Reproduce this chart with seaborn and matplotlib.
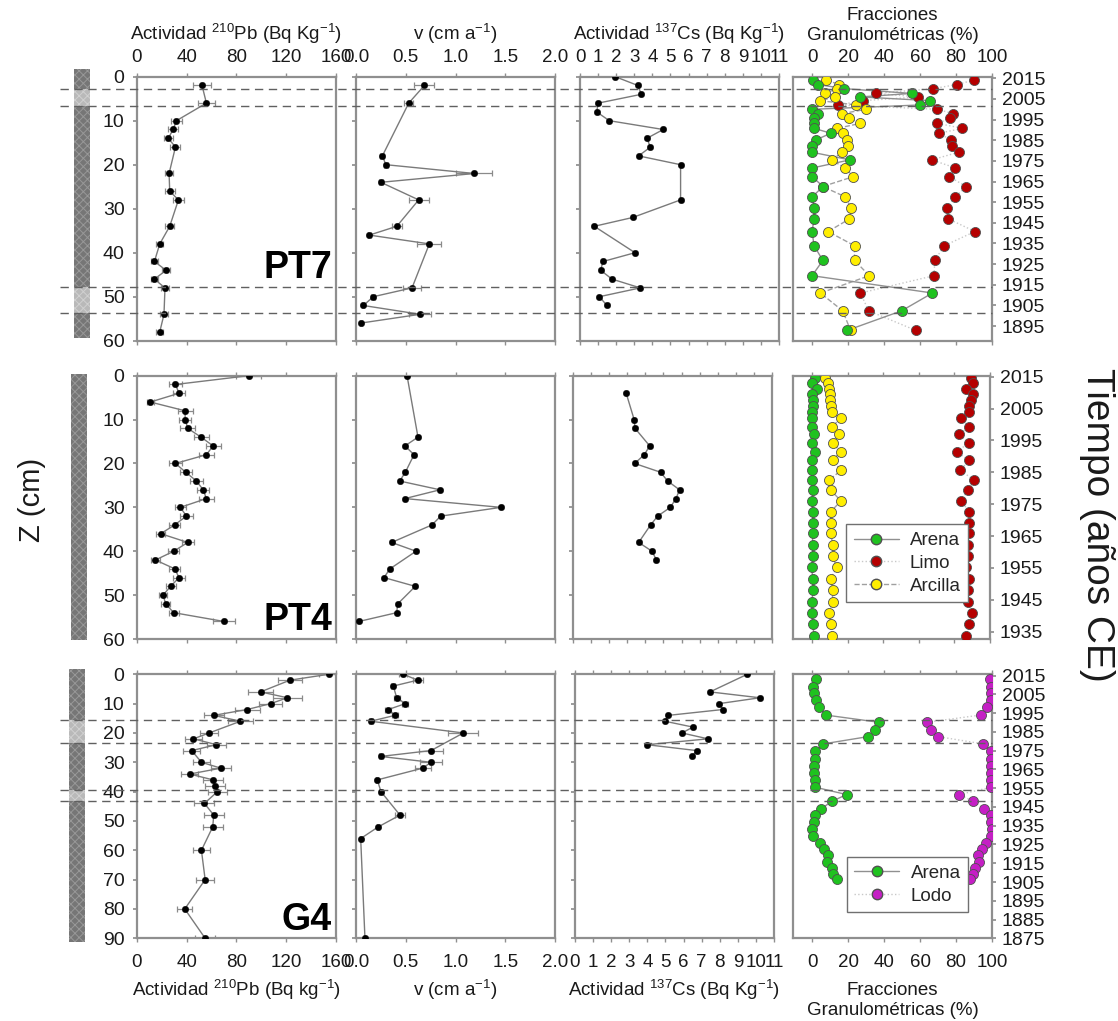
import matplotlib
matplotlib.use("Agg")
import matplotlib.pyplot as plt
import seaborn as sns
from matplotlib.lines import Line2D
from matplotlib.patches import Rectangle
from matplotlib.transforms import blended_transform_factory

sns.set_theme(style="white")
plt.rcParams["font.family"] = ["Liberation Sans", "DejaVu Sans"]
plt.rcParams["mathtext.fontset"] = "custom"
plt.rcParams["mathtext.rm"] = "Liberation Sans"
plt.rcParams["mathtext.it"] = "Liberation Sans:italic"
plt.rcParams["mathtext.bf"] = "Liberation Sans:bold"
plt.rcParams["mathtext.default"] = "regular"
plt.rcParams["hatch.linewidth"] = 0.7

# ======================= DATA =======================
# ---- PT7 ----
pt7_pb_depth = [2, 6, 10, 12, 14, 16, 22, 26, 28, 34, 38, 42, 44, 46, 48, 54, 58]
pt7_pb = [52.3, 55.8, 31.7, 29.0, 25.2, 30.9, 25.8, 26.3, 33.3, 26.3, 18.3, 14.0, 23.4, 14.0, 22.5, 21.7, 18.3]
pt7_pb_err = [7.4, 6.7, 4.5, 4.0, 3.5, 4.0, 3.5, 4.0, 4.5, 3.5, 3.0, 3.0, 3.5, 3.0, 3.5, 3.5, 3.0]

pt7_v_depth = [2, 6, 18, 20, 22, 24, 28, 34, 36, 38, 48, 50, 52, 54, 56]
pt7_v = [0.687, 0.53, 0.265, 0.30, 1.19, 0.25, 0.63, 0.41, 0.134, 0.737, 0.563, 0.174, 0.074, 0.643, 0.047]
pt7_v_err = [0.10, 0.045, 0.02, 0.02, 0.18, 0.02, 0.10, 0.05, 0.015, 0.12, 0.09, 0.02, 0.01, 0.11, 0.01]

pt7_cs_depth = [0, 2, 4, 6, 8, 10, 12, 14, 16, 18, 20, 28, 32, 34, 40, 42, 44, 46, 48, 50, 52]
pt7_cs = [1.95, 3.2, 3.39, 1.01, 0.92, 1.62, 4.6, 3.7, 3.89, 3.24, 5.56, 5.56, 2.91, 0.79, 3.04, 1.27, 1.14, 1.77, 3.33, 1.07, 1.49]

pt7_year = [2014.2, 2012.0, 2010.0, 2007.7, 2006.0, 2004.2, 2002.1, 2000.0, 1997.9, 1995.6,
            1993.2, 1990.8, 1988.4, 1985.2, 1982.4, 1979.2, 1975.5, 1971.6, 1967.4, 1962.6,
            1957.7, 1952.1, 1946.9, 1940.8, 1933.9, 1926.8, 1919.4, 1911.0, 1902.4, 1892.9]
pt7_arena = [0.4, 3.3, 18.0, 55.4, 26.8, 65.6, 60.0, 0.0, 3.4, 1.1,
             1.1, 1.1, 10.4, 2.2, 0.2, 0.0, 21.0, 0.2, 0.0, 6.1,
             0.2, 1.1, 1.1, 0.0, 1.1, 6.0, 0.0, 66.9, 49.8, 19.5]
pt7_limo = [90.0, 80.5, 67.0, 35.7, 59.0, 28.4, 14.5, 69.7, 78.4, 76.6,
            69.7, 83.6, 70.6, 77.0, 78.0, 81.4, 66.5, 79.7, 76.2, 85.7,
            79.7, 74.9, 75.8, 90.5, 73.4, 68.2, 67.8, 26.9, 31.4, 57.6]
pt7_arcilla = [7.8, 15.2, 14.0, 7.0, 13.0, 4.6, 24.5, 30.0, 16.7, 20.8,
               26.9, 14.0, 17.0, 19.5, 19.9, 16.7, 10.8, 18.2, 23.0, 5.9,
               18.2, 21.9, 20.8, 8.9, 23.6, 23.6, 31.8, 4.6, 17.0, 21.4]

# ---- PT4 ----
pt4_pb_depth = [0, 2, 4, 6, 8, 10, 12, 14, 16, 18, 20, 22, 24, 26, 28, 30, 32, 34, 36, 38, 40, 42, 44, 46, 48, 50, 52, 54, 56]
pt4_pb = [89.7, 30.9, 33.8, 10.7, 38.7, 38.7, 40.8, 51.5, 61.2, 55.8, 30.9, 39.2, 47.8, 53.2, 55.8,
          34.9, 39.7, 30.3, 19.1, 40.8, 29.5, 14.8, 30.3, 33.8, 27.1, 20.9, 23.1, 29.5, 69.8]
pt4_pb_err = [10, 5, 4.5, 3, 6, 5, 6, 6, 6, 6, 5, 5, 5, 5, 6,
              4.5, 5, 4.5, 3.5, 5, 4.5, 3.5, 4.5, 4.5, 4, 3.5, 3.5, 4, 9]

pt4_v_depth = [0, 14, 16, 18, 22, 24, 26, 28, 30, 32, 34, 38, 40, 44, 46, 48, 52, 54, 56]
pt4_v = [0.513, 0.623, 0.492, 0.583, 0.496, 0.439, 0.844, 0.492, 1.457, 0.851, 0.764, 0.358, 0.603,
         0.342, 0.281, 0.596, 0.419, 0.409, 0.03]

pt4_cs_depth = [4, 10, 12, 16, 18, 20, 22, 24, 26, 28, 30, 32, 34, 38, 40, 42]
pt4_cs = [2.94, 3.38, 3.43, 4.24, 3.94, 3.41, 4.84, 5.23, 5.89, 5.69, 5.38, 4.68, 4.29, 3.63, 4.37, 4.61]

pt4_year = [2014.5, 2012.9, 2011.1, 2009.5, 2007.7, 2005.9, 2003.8, 2001.9, 1999.3, 1996.9,
            1994.2, 1991.5, 1988.7, 1985.6, 1982.5, 1979.3, 1976.0, 1972.6, 1969.2, 1965.8,
            1962.3, 1958.7, 1955.2, 1951.5, 1948.0, 1944.4, 1940.9, 1937.3, 1933.7]
pt4_arena = [1.5, 0.0, 2.8, 0.0, 0.4, 0.4, 0.0, 0.0, 0.0, 1.3,
             0.0, 1.9, 0.0, 0.0, 0.0, 0.6, 0.0, 0.4, 0.4, 0.4,
             0.4, 0.4, 0.0, 0.4, 0.7, 0.0, 0.0, 0.4, 1.3]
pt4_limo = [89.5, 90.7, 86.4, 90.3, 89.2, 88.0, 88.2, 83.7, 88.2, 82.8,
            88.2, 81.3, 88.0, 83.4, 91.2, 87.5, 83.7, 88.4, 88.4, 88.4,
            87.5, 87.5, 86.4, 88.4, 87.5, 87.9, 89.7, 88.4, 86.5]
pt4_arcilla = [7.5, 8.8, 9.5, 9.9, 10.3, 10.8, 11.2, 16.3, 11.2, 15.1,
               11.6, 16.1, 11.6, 16.4, 9.5, 10.8, 16.3, 10.5, 10.7, 10.7,
               11.6, 11.6, 14.0, 10.5, 11.6, 11.6, 9.7, 10.5, 11.4]

# ---- G4 ----
g4_pb_depth = [0, 2, 6, 8, 10, 12, 14, 16, 20, 22, 24, 26, 30, 32, 34, 36, 38, 40, 44, 48, 52, 60, 70, 80, 90]
g4_pb = [154, 123, 99.3, 121, 107.4, 88.6, 61.7, 83.2, 58, 45.4, 63.9, 44, 51.8, 67.4, 42.4,
         61.2, 62.6, 64.7, 54.2, 61.7, 60.9, 51.8, 54.8, 38.4, 54.8]
g4_pb_err = [8, 10, 10, 12, 9, 10, 8, 10, 7, 7, 8, 7, 7, 8, 7, 8, 8, 8, 8, 8, 8, 7, 7, 6, 8]

g4_v_depth = [0, 2, 4, 8, 10, 12, 14, 16, 20, 26, 28, 30, 32, 36, 40, 48, 52, 56, 90]
g4_v = [0.476, 0.62, 0.375, 0.409, 0.496, 0.325, 0.392, 0.147, 1.079, 0.754, 0.248, 0.754, 0.67,
        0.214, 0.251, 0.442, 0.224, 0.047, 0.09]
g4_v_err = [0.04, 0.05, 0.02, 0.03, 0.03, 0.03, 0.03, 0.02, 0.15, 0.12, 0.02, 0.11, 0.08,
            0.01, 0.02, 0.05, 0.01, 0.005, 0.005]

g4_cs_depth = [0, 6, 8, 10, 12, 14, 16, 18, 20, 22, 24, 26, 28]
g4_cs = [9.52, 7.46, 10.22, 7.96, 8.18, 5.16, 4.97, 6.52, 5.91, 7.35, 3.98, 6.72, 6.46]

g4_year = [2013.0, 2009.1, 2005.6, 2002.0, 1998.1, 1994.0, 1990.1, 1986.0, 1982.5, 1978.6,
           1974.9, 1970.8, 1967.0, 1963.1, 1959.4, 1955.5, 1951.6, 1948.0, 1944.1, 1940.6,
           1936.8, 1933.3, 1929.7, 1926.0, 1922.5, 1919.4, 1915.9, 1912.7, 1909.5, 1906.5]
g4_arena = [2.1, 0.6, 0.9, 2.1, 3.9, 7.5, 37.3, 34.9, 31.2, 6.2,
            1.9, 1.9, 0.9, 0.9, 1.9, 1.9, 19.2, 11.0, 5.2, 1.9,
            0.9, 0.0, 0.6, 4.3, 6.7, 9.0, 8.4, 10.8, 11.9, 13.6]
g4_lodo = [98.9, 99.6, 99.4, 99.4, 97.2, 93.8, 63.6, 66.2, 70.0, 95.0,
           99.4, 99.4, 99.6, 99.6, 99.4, 99.4, 81.7, 89.7, 95.7, 99.4,
           99.6, 100.0, 99.6, 96.8, 94.4, 92.4, 92.9, 90.5, 89.6, 87.9]

# section boundaries (depth, cm) marked with dashed lines / lighter core sections
pt7_marks = [2.7, 6.7, 47.8, 53.7]
g4_marks = [15.5, 23.3, 39.3, 43.3]

core_names = ["PT7", "PT4", "G4"]
top_titles = ["Actividad $^{210}$Pb (Bq Kg$^{-1}$)", "v (cm a$^{-1}$)",
              "Actividad $^{137}$Cs (Bq Kg$^{-1}$)", "Fracciones\nGranulométricas (%)"]
bottom_titles = ["Actividad $^{210}$Pb (Bq kg$^{-1}$)", "v (cm a$^{-1}$)",
                 "Actividad $^{137}$Cs (Bq Kg$^{-1}$)", "Fracciones\nGranulométricas (%)"]

# ======================= STYLE =======================
GREEN = "#1fc21f"
RED = "#b50000"
YELLOW = "#ffee00"
MAGENTA = "#c51fc5"
SPINE = "#8f8f8f"
LINE = "#7a7a7a"
TXT = "#1a1a1a"

W, H = 1118, 1021
fig = plt.figure(figsize=(W / 100, H / 100), dpi=100)
fig.patch.set_facecolor("white")


def add_ax(x0, x1, y0, y1):
    return fig.add_axes([x0 / W, 1 - y1 / H, (x1 - x0) / W, (y1 - y0) / H])


row_px = [(76.7, 340.7), (375.7, 639.0), (674.3, 938.3)]
col_px = [[(137, 336), (356, 555), (580, 779), (793, 992)],
          [(137, 336), (356, 555), (573, 772), (793, 990)],
          [(137, 336), (356, 555), (575, 774), (793, 992)]]
depth_max = [60, 60, 90]
year_lims = [(1887.9, 2015.8), (1932.7, 2015.3), (1875.0, 2015.7)]
year_ticks = [list(range(1895, 2016, 10)), list(range(1935, 2016, 10)), list(range(1875, 2016, 10))]


def style_ax(ax, row, xlim, xticks, ylim, yticks):
    ax.set_xlim(xlim)
    ax.set_ylim(ylim)
    ax.set_xticks(xticks)
    ax.set_yticks(yticks)
    ax.set_xlabel("")
    ax.set_ylabel("")
    ax.set_facecolor("white")
    ax.tick_params(axis="x", top=True, bottom=True, labeltop=(row == 0), labelbottom=(row == 2),
                   direction="out", length=3, width=1, color=SPINE, labelsize=13.5,
                   labelcolor=TXT, pad=(5 if row == 0 else 8))
    for s in ax.spines.values():
        s.set_color(SPINE)
        s.set_linewidth(1.6)
    ax.grid(False)


def profile(ax, x, d, err=None):
    if err is not None:
        ax.errorbar(x, d, xerr=err, fmt="none", ecolor="#8a8a8a", elinewidth=0.9,
                    capsize=2.5, capthick=0.9, zorder=2)
    sns.lineplot(x=x, y=d, sort=False, estimator=None, color=LINE, lw=1.0, ax=ax, zorder=3)
    sns.scatterplot(x=x, y=d, color="black", s=22, edgecolor="black", linewidth=0.3, ax=ax, zorder=4)


def grain(ax, years, vals, color, ls, lcolor):
    sns.lineplot(x=vals, y=years, sort=False, estimator=None, color=lcolor, lw=1.0,
                 linestyle=ls, ax=ax, zorder=2)
    sns.scatterplot(x=vals, y=years, color=color, s=52, edgecolor="#505050", linewidth=0.6,
                    ax=ax, zorder=3)


rows_data = [
    (pt7_pb, pt7_pb_depth, pt7_pb_err, pt7_v, pt7_v_depth, pt7_v_err, pt7_cs, pt7_cs_depth),
    (pt4_pb, pt4_pb_depth, pt4_pb_err, pt4_v, pt4_v_depth, None, pt4_cs, pt4_cs_depth),
    (g4_pb, g4_pb_depth, g4_pb_err, g4_v, g4_v_depth, g4_v_err, g4_cs, g4_cs_depth),
]

first_axes = []
for r in range(3):
    y0, y1 = row_px[r]
    dmax = depth_max[r]
    dticks = list(range(0, dmax + 1, 10))
    pb, pbd, pbe, v, vd, ve, cs, csd = rows_data[r]
    axes = [add_ax(c0, c1, y0, y1) for (c0, c1) in col_px[r]]
    a1, a2, a3, a4 = axes
    first_axes.append(a1)

    profile(a1, pb, pbd, pbe)
    style_ax(a1, r, (0, 160), [0, 40, 80, 120, 160], (dmax, 0), dticks)
    a1.tick_params(axis="y", left=True, right=False, labelleft=True, direction="out", length=3,
                   color=SPINE, labelsize=14, labelcolor=TXT, pad=6)

    profile(a2, v, vd, ve)
    style_ax(a2, r, (0, 2.0), [0.0, 0.5, 1.0, 1.5, 2.0], (dmax, 0), dticks)
    a2.set_xticklabels(["0.0", "0.5", "1.0", "1.5", "2.0"])
    a2.tick_params(axis="y", left=True, labelleft=False, direction="out", length=3, color=SPINE)

    profile(a3, cs, csd, None)
    style_ax(a3, r, (0, 11), list(range(0, 12)), (dmax, 0), dticks)
    a3.tick_params(axis="y", left=True, labelleft=False, direction="out", length=3, color=SPINE)

    # granulometric fractions vs time
    if r == 0:
        grain(a4, pt7_year, pt7_limo, RED, ":", "#c8c8c8")
        grain(a4, pt7_year, pt7_arcilla, YELLOW, "--", "#a0a0a0")
        grain(a4, pt7_year, pt7_arena, GREEN, "-", "#909090")
    elif r == 1:
        grain(a4, pt4_year, pt4_limo, RED, ":", "#c8c8c8")
        grain(a4, pt4_year, pt4_arcilla, YELLOW, "--", "#a0a0a0")
        grain(a4, pt4_year, pt4_arena, GREEN, "-", "#909090")
    else:
        grain(a4, g4_year, g4_lodo, MAGENTA, ":", "#c8c8c8")
        grain(a4, g4_year, g4_arena, GREEN, "-", "#909090")
    style_ax(a4, r, (-10.6, 100), [0, 20, 40, 60, 80, 100], year_lims[r], year_ticks[r])
    a4.tick_params(axis="y", left=False, right=True, labelleft=False, labelright=True,
                   direction="out", length=3, color=SPINE, labelsize=14, labelcolor=TXT, pad=4)

    # titles
    if r == 0:
        for i, (ax, t) in enumerate(zip(axes, top_titles)):
            ax.xaxis.set_label_position("top")
            ax.set_xlabel(t, fontsize=13.5, labelpad=6, color=TXT,
                          linespacing=(1.25 if i == 3 else 1.0))
    if r == 2:
        for i, (ax, t) in enumerate(zip(axes, bottom_titles)):
            ax.xaxis.set_label_position("bottom")
            ax.set_xlabel(t, fontsize=13.5, labelpad=(8 if i == 3 else 5), color=TXT,
                          linespacing=(1.25 if i == 3 else 1.0))

    # core name
    name_y = [0.277, 0.072, 0.068][r]
    a1.text(0.98, name_y, core_names[r], transform=a1.transAxes, ha="right", va="center",
            fontsize=27, fontweight="bold", color="black")

    # legends
    if r == 1:
        handles = [
            Line2D([0], [0], color="#909090", ls="-", marker="o", mfc=GREEN, mec="#505050", ms=7.5, lw=1),
            Line2D([0], [0], color="#c8c8c8", ls=":", marker="o", mfc=RED, mec="#505050", ms=7.5, lw=1),
            Line2D([0], [0], color="#a0a0a0", ls="--", marker="o", mfc=YELLOW, mec="#505050", ms=7.5, lw=1),
        ]
        leg = a4.legend(handles, ["Arena", "Limo", "Arcilla"], loc="upper left",
                        bbox_to_anchor=(0.27, 0.435), frameon=True, fancybox=False,
                        edgecolor="#707070", fontsize=13.5, handlelength=2.4, borderpad=0.4,
                        labelspacing=0.3, handletextpad=0.6, borderaxespad=0, framealpha=1)
        leg.get_frame().set_linewidth(1.0)
    if r == 2:
        handles = [
            Line2D([0], [0], color="#909090", ls="-", marker="o", mfc=GREEN, mec="#505050", ms=7.5, lw=1),
            Line2D([0], [0], color="#c8c8c8", ls=":", marker="o", mfc=MAGENTA, mec="#505050", ms=7.5, lw=1),
        ]
        leg = a4.legend(handles, ["Arena", "Lodo"], loc="upper left",
                        bbox_to_anchor=(0.27, 0.307), frameon=True, fancybox=False,
                        edgecolor="#707070", fontsize=13.5, handlelength=2.4, borderpad=0.4,
                        labelspacing=0.3, handletextpad=0.6, borderaxespad=0, framealpha=1)
        leg.get_frame().set_linewidth(1.0)

# ---------------- core strips and dashed section lines ----------------
strip_x = [(74, 90), (71, 87), (69, 85)]
strip_extent = [(-1.8, 59.3), (-0.5, 60.2), (-1.7, 91.4)]
light_sections = [[(pt7_marks[0], pt7_marks[1]), (pt7_marks[2], pt7_marks[3])], [],
                  [(g4_marks[0], g4_marks[1]), (g4_marks[2], g4_marks[3])]]
marks = [pt7_marks, [], g4_marks]

for r in range(3):
    ax = first_axes[r]
    tr = blended_transform_factory(fig.transFigure, ax.transData)
    sx0, sx1 = strip_x[r]
    d0, d1 = strip_extent[r]
    rect = Rectangle((sx0 / W, d0), (sx1 - sx0) / W, d1 - d0, transform=tr, facecolor="#767676",
                     edgecolor="#989898", hatch="xxxx", lw=0, clip_on=False, zorder=1)
    fig.add_artist(rect)
    for (a, b) in light_sections[r]:
        rect = Rectangle((sx0 / W, a), (sx1 - sx0) / W, b - a, transform=tr, facecolor="#b9b9b9",
                         edgecolor="#d0d0d0", hatch="xxxx", lw=0, clip_on=False, zorder=1)
        fig.add_artist(rect)
    for d in marks[r]:
        fig.add_artist(Line2D([60 / W, 992 / W], [d, d], transform=tr, ls=(0, (6, 4)),
                              color="#606060", lw=1.0, zorder=5))

fig.text(32 / W, 1 - 500 / H, "Z (cm)", rotation=90, ha="center", va="center", fontsize=21,
         color=TXT)
fig.text(1097 / W, 1 - 525 / H, "Tiempo (años CE)", rotation=270, ha="center", va="center",
         fontsize=28, color=TXT)

fig.savefig("out.png", dpi=100, facecolor="white")
